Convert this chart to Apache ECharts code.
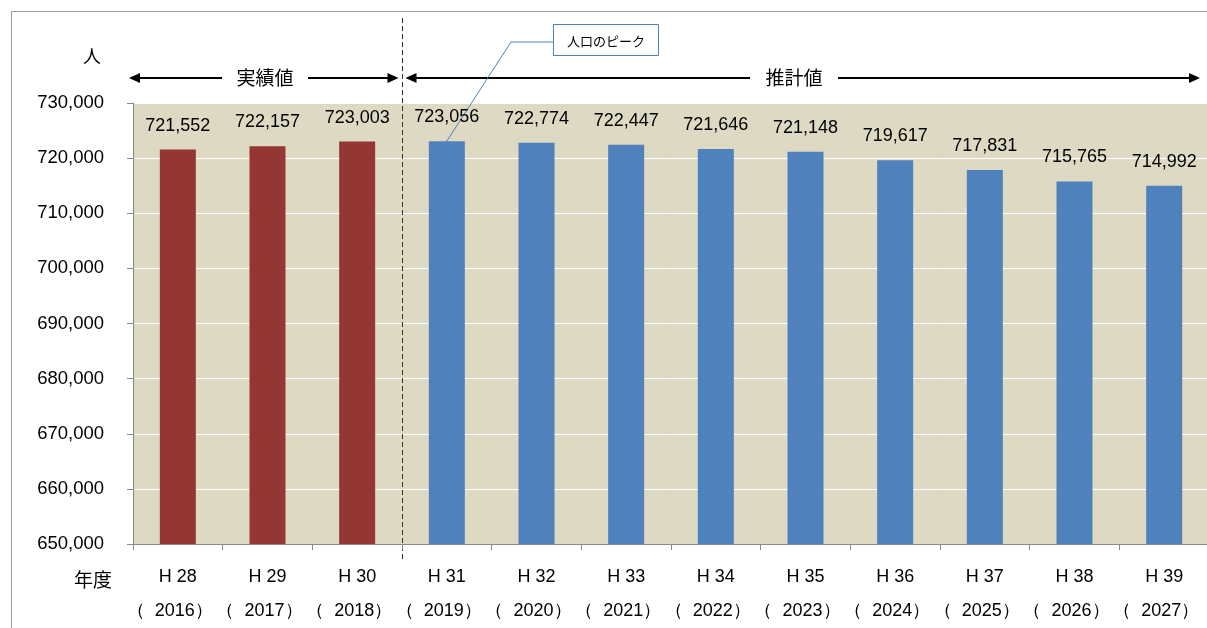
<!DOCTYPE html>
<html><head><meta charset="utf-8">
<script src="https://cdn.jsdelivr.net/npm/echarts@6/dist/echarts.min.js"></script>
<style>html,body{margin:0;padding:0;background:#fff}#c{width:1207px;height:628px}</style>
</head><body><div id="c"></div>
<script>
const eraLabels = ['H 28','H 29','H 30','H 31','H 32','H 33','H 34','H 35','H 36','H 37','H 38','H 39'];
const yearLabels = ['2016','2017','2018','2019','2020','2021','2022','2023','2024','2025','2026','2027'];
const population = [721552,722157,723003,723056,722774,722447,721646,721148,719617,717831,715765,714992];
const actualCount = 3;
const yTicks = [650000,660000,670000,680000,690000,700000,710000,720000,730000];

const RED = '#943634', BLUE = '#4F81BD';
const FONT = '"Liberation Sans", Arial, sans-serif';
const JFONT = '"Noto Sans CJK JP", sans-serif';

const chart = echarts.init(document.getElementById('c'));
const option = {
  animation: false,
  grid: {left: 133, right: -2, top: 103, bottom: 84, backgroundColor: '#DDD9C3', show: true, borderWidth: 0,
    outerBoundsMode: 'none', containLabel: false},
  xAxis: {
    type: 'category',
    data: eraLabels.map((e,i)=> e + '\n' + yearLabels[i]),
    axisLine: {lineStyle: {color: '#888', width: 1}},
    axisTick: {show: true, interval: 0, length: 6, lineStyle: {color: '#888'}, alignWithLabel: false},
    axisLabel: {
      interval: 0,
      margin: 16,
      formatter: function(v){ const p = v.split('\n'); return '{a|' + p[0] + '}\n{b|（  ' + p[1] + '）}'; },
      rich: {
        a: {fontSize: 18, fontFamily: FONT, color: '#000', lineHeight: 34},
        b: {fontSize: 18, fontFamily: FONT, color: '#000', lineHeight: 34, padding: [0, 16, 0, 0]}
      }
    }
  },
  yAxis: {
    type: 'value', min: yTicks[0], max: yTicks[yTicks.length-1], interval: yTicks[1]-yTicks[0],
    axisLine: {show: true, lineStyle: {color: '#888'}},
    axisTick: {show: true, length: 6, lineStyle: {color: '#888'}},
    splitLine: {lineStyle: {color: '#fff', width: 1}},
    axisLabel: {margin: 29, fontSize: 18.5, fontFamily: FONT, color: '#000',
      formatter: v => v.toLocaleString('en-US')}
  },
  series: [{
    type: 'bar', barWidth: 36,
    data: population.map((v,i)=>({value: v, itemStyle: {color: i < actualCount ? RED : BLUE}})),
    label: {show: true, position: 'top', distance: 15, fontSize: 18, fontFamily: FONT, color: '#000',
      formatter: p => p.value.toLocaleString('en-US')}
  }]
};
chart.setOption(option);

const c2 = chart.convertToPixel({xAxisIndex: 0}, actualCount-1);
const c3 = chart.convertToPixel({xAxisIndex: 0}, actualCount);
const bx = Math.round((c2 + c3)/2) + 0.5;
const peakPt = chart.convertToPixel({gridIndex: 0}, [3, population[3]]);
const ay = 78;
function arrowHead(x, dir){
  return {type: 'polygon', shape: {points: [[x, ay], [x - dir*11, ay-5], [x - dir*11, ay+5]]}, style: {fill: '#000'}};
}
chart.setOption({graphic: [
  {type: 'rect', shape: {x: 11.5, y: 11.5, width: 1300, height: 700}, style: {fill: null, stroke: '#999', lineWidth: 1}, silent: true},
  {type: 'line', shape: {x1: bx, y1: 18, x2: bx, y2: 560}, style: {stroke: '#333', lineWidth: 1, lineDash: [5, 3]}},
  arrowHead(129, -1),
  {type: 'line', shape: {x1: 136, y1: ay, x2: 222, y2: ay}, style: {stroke: '#000', lineWidth: 2}},
  {type: 'text', x: 265, y: ay, style: {text: '実績値', font: '19px ' + JFONT, fill: '#000', align: 'center', verticalAlign: 'middle'}},
  {type: 'line', shape: {x1: 308, y1: ay, x2: 390, y2: ay}, style: {stroke: '#000', lineWidth: 2}},
  arrowHead(bx - 4, 1),
  arrowHead(bx + 3, -1),
  {type: 'line', shape: {x1: bx + 10, y1: ay, x2: 750, y2: ay}, style: {stroke: '#000', lineWidth: 2}},
  {type: 'text', x: 794, y: ay, style: {text: '推計値', font: '19px ' + JFONT, fill: '#000', align: 'center', verticalAlign: 'middle'}},
  {type: 'line', shape: {x1: 838, y1: ay, x2: 1192, y2: ay}, style: {stroke: '#000', lineWidth: 2}},
  arrowHead(1200, 1),
  {type: 'polyline', shape: {points: [[553, 42], [511, 42], [peakPt[0] - 4, peakPt[1] + 6]]}, style: {stroke: BLUE, lineWidth: 1, fill: null}},
  {type: 'rect', shape: {x: 553.5, y: 24.5, width: 105, height: 31}, style: {fill: '#fff', stroke: BLUE, lineWidth: 1}},
  {type: 'text', x: 606, y: 41, style: {text: '人口のピーク', font: '13px ' + JFONT, fill: '#000', align: 'center', verticalAlign: 'middle'}},
  {type: 'text', x: 92, y: 56, style: {text: '人', font: '18px ' + JFONT, fill: '#000', align: 'center', verticalAlign: 'middle'}},
  {type: 'text', x: 93, y: 580, style: {text: '年度', font: '19px ' + JFONT, fill: '#000', align: 'center', verticalAlign: 'middle'}}
]});
</script></body></html>
